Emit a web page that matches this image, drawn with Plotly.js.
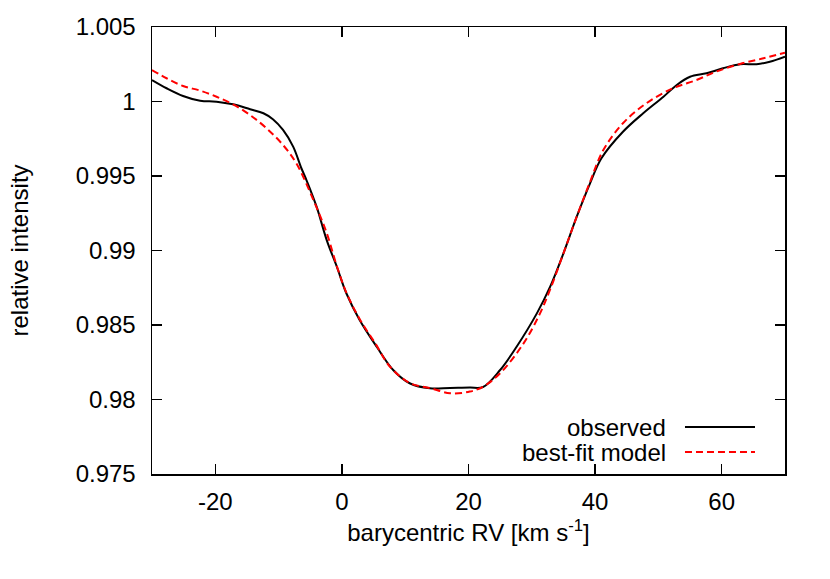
<!DOCTYPE html>
<html>
<head>
<meta charset="utf-8">
<script src="https://cdn.plot.ly/plotly-3.0.1.min.js"></script>
<style>
  html, body { margin: 0; padding: 0; background: white; }
  #graph { width: 830px; height: 579px; }
</style>
</head>
<body>
<div id="graph"></div>
<script>
// Datos
var rvObs = [-30, -27.7, -25.1, -22.4, -19.8, -17.2, -14.5, -12.4, -10.9, -9.3, -7.7, -6.4, -5.6, -4.0, -2.4, -0.8, 0.7, 2.8, 5.5, 8.1, 10.7, 13.9, 17.1, 20.2, 22.3, 25, 27.6, 30.8, 32.9, 35.0, 37.1, 39.2, 41.0, 44.4, 47.6, 50.8, 52.9, 55.0, 57.6, 60.2, 62.9, 65.5, 67.6, 70];
var intObs = [1.00144, 1.00089, 1.00037, 1.00005, 0.99999, 0.99981, 0.99948, 0.99921, 0.99881, 0.99809, 0.99697, 0.99552, 0.99473, 0.99294, 0.99070, 0.98891, 0.98713, 0.98534, 0.98354, 0.98198, 0.98109, 0.98075, 0.98078, 0.98080, 0.98084, 0.98198, 0.98354, 0.98578, 0.98757, 0.98981, 0.99227, 0.99451, 0.99619, 0.99797, 0.99921, 1.00032, 1.00111, 1.00166, 1.00189, 1.00223, 1.00250, 1.00250, 1.00267, 1.00301];

var rvMod = [-30, -27.7, -25.1, -22.4, -19.8, -17.2, -14.5, -11.9, -9.3, -7.2, -4.5, -2.4, -0.8, 0.7, 2.8, 5.3, 7.6, 10.7, 13.9, 17.1, 20.2, 22.3, 25, 28.7, 31.3, 33.0, 35.0, 37.1, 39.2, 41.3, 44.4, 48.1, 52.3, 56.0, 59.1, 62.9, 66.6, 70];
var intMod = [1.00211, 1.00156, 1.00104, 1.00073, 1.00032, 0.99981, 0.99909, 0.99820, 0.99708, 0.99585, 0.99339, 0.99117, 0.98895, 0.98718, 0.98540, 0.98375, 0.98220, 0.98111, 0.98077, 0.98042, 0.98053, 0.98086, 0.98176, 0.98377, 0.98578, 0.98750, 0.98981, 0.99227, 0.99460, 0.99674, 0.99854, 0.99988, 1.00089, 1.00144, 1.00200, 1.00252, 1.0029, 1.00328];

var xTicks = [-20, 0, 20, 40, 60];
var xTickText = ['-20', '0', '20', '40', '60'];
var yTicks = [0.975, 0.98, 0.985, 0.99, 0.995, 1, 1.005];
var yTickText = ['0.975', '0.98', '0.985', '0.99', '0.995', '1', '1.005'];

var fuente = 'Liberation Sans, Arial, sans-serif';
var tam = 24;

var traceObs = {
    x: rvObs,
    y: intObs,
    mode: 'lines',
    name: 'observed',
    line: { color: 'black', width: 2, shape: 'spline', smoothing: 1 }
};
var traceMod = {
    x: rvMod,
    y: intMod,
    mode: 'lines',
    name: 'best-fit model',
    line: { color: 'rgb(255,0,0)', width: 2, dash: '7px,4px', shape: 'spline', smoothing: 1 }
};

var ejeComun = {
    showline: true,
    linecolor: 'black',
    linewidth: 1.5,
    mirror: 'ticks',
    ticks: 'inside',
    ticklen: 10,
    tickwidth: 1.5,
    tickcolor: 'black',
    showgrid: false,
    zeroline: false,
    tickfont: { family: fuente, size: tam, color: 'black' }
};

var layout = {
    width: 830,
    height: 579,
    margin: { l: 152, r: 45, t: 27, b: 105 },
    paper_bgcolor: 'white',
    plot_bgcolor: 'white',
    showlegend: false,
    font: { family: fuente, size: tam, color: 'black' },
    xaxis: Object.assign({}, ejeComun, {
        range: [-30, 70],
        tickvals: xTicks,
        ticktext: xTickText,
        ticklabelstandoff: 6,
        title: { text: 'barycentric RV [km s<sup>-1</sup>]', font: { family: fuente, size: tam }, standoff: 10 }
    }),
    yaxis: Object.assign({}, ejeComun, {
        range: [0.975, 1.005],
        tickvals: yTicks,
        ticktext: yTickText,
        ticklabelstandoff: 10,
        title: { text: 'relative intensity', font: { family: fuente, size: tam }, standoff: 40 }
    }),
    // leyenda dibujada a mano: texto a la izquierda, muestra a la derecha
    annotations: [
        { xref: 'paper', yref: 'paper', x: 0.815, y: 0.105, xanchor: 'right', yanchor: 'middle',
          text: 'observed', showarrow: false, font: { family: fuente, size: tam } },
        { xref: 'paper', yref: 'paper', x: 0.815, y: 0.049, xanchor: 'right', yanchor: 'middle',
          text: 'best-fit model', showarrow: false, font: { family: fuente, size: tam } }
    ],
    shapes: [
        { type: 'line', xref: 'paper', yref: 'paper', x0: 0.842, x1: 0.9526, y0: 0.105, y1: 0.105,
          line: { color: 'black', width: 2 } },
        { type: 'line', xref: 'paper', yref: 'paper', x0: 0.842, x1: 0.9526, y0: 0.049, y1: 0.049,
          line: { color: 'rgb(255,0,0)', width: 2, dash: '7px,4px' } }
    ]
};

var config = { staticPlot: true };

Plotly.newPlot('graph', [traceObs, traceMod], layout, config);
</script>
</body>
</html>
